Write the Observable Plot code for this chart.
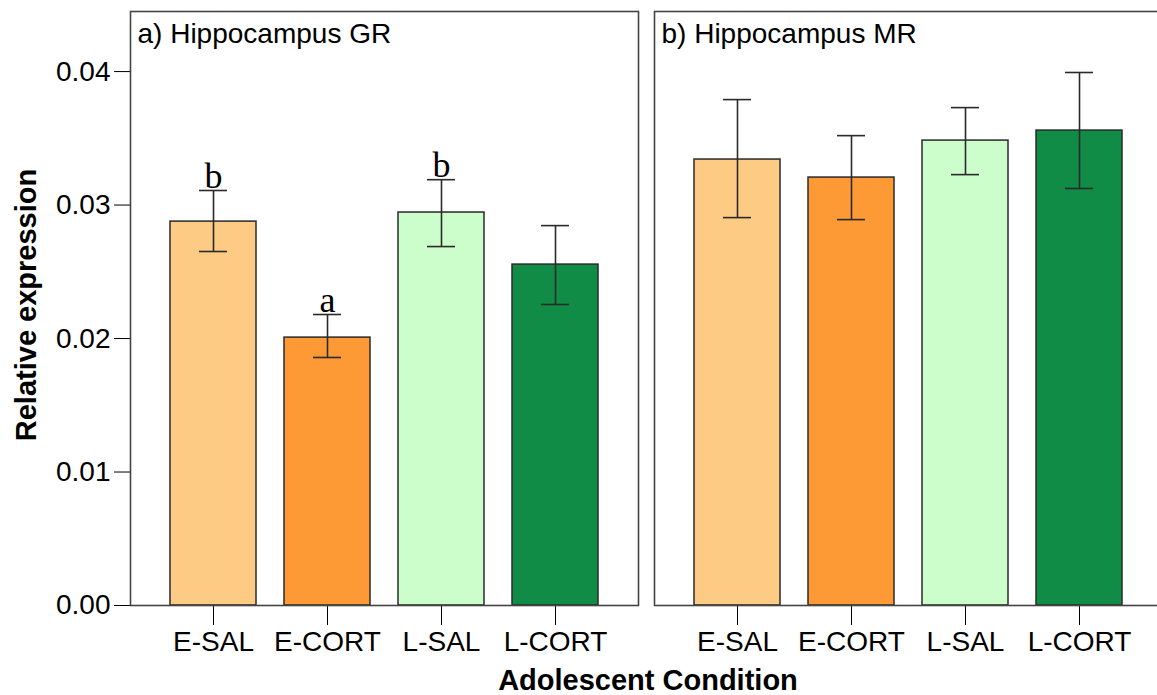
<!DOCTYPE html>
<html>
<head>
<meta charset="utf-8">
<script src="https://cdn.jsdelivr.net/npm/d3@7"></script>
<script src="https://cdn.jsdelivr.net/npm/@observablehq/plot@0.6"></script>
<style>
  html, body { margin: 0; padding: 0; overflow: hidden; background: #fff; }
  #chart { width: 1157px; height: 695px; overflow: hidden; }
  #chart svg { max-width: none !important; }
</style>
</head>
<body>
<div id="chart"></div>
<script>
const conditions = ["E-SAL", "E-CORT", "L-SAL", "L-CORT"];
const panels = ["a", "b"];
const panelTitles = ["a) Hippocampus GR", "b) Hippocampus MR"];
const grMean = [0.02876, 0.02007, 0.02944, 0.02554];
const grLow  = [0.02652, 0.01858, 0.02689, 0.02255];
const grHigh = [0.03109, 0.02180, 0.03190, 0.02846];
const grLetters = ["b", "a", "b", ""];
const mrMean = [0.03341, 0.03206, 0.03483, 0.03558];
const mrLow  = [0.02906, 0.02891, 0.03228, 0.03124];
const mrHigh = [0.03790, 0.03520, 0.03730, 0.03993];
const yTicks = [0, 0.01, 0.02, 0.03, 0.04];
const colors = ["#fecb85", "#fd9a35", "#ccfecc", "#108c47"];

const rows = [];
conditions.forEach((c, i) => {
  rows.push({panel: "a", condition: c, mean: grMean[i], low: grLow[i], high: grHigh[i], letter: grLetters[i]});
});
conditions.forEach((c, i) => {
  rows.push({panel: "b", condition: c, mean: mrMean[i], low: mrLow[i], high: mrHigh[i], letter: ""});
});
const titles = panels.map((p, i) => ({panel: p, title: panelTitles[i]}));

const chart = Plot.plot({
  width: 1157,
  height: 695,
  marginTop: 11,
  marginBottom: 90,
  marginLeft: 130,
  marginRight: -6,
  style: {fontFamily: "Liberation Sans, Arial, sans-serif", fontSize: "28px", color: "#000", background: "#fff", maxWidth: "none", overflow: "hidden"},
  fx: {domain: panels, axis: null, paddingInner: 0.0305, paddingOuter: 0},
  x: {domain: conditions, paddingInner: 0.25, paddingOuter: 0.34, tickSize: 20, tickPadding: 6, label: null},
  y: {domain: [0, 0.0445], ticks: yTicks, tickFormat: d3.format(".2f"), tickSize: 16, tickPadding: 4, label: null},
  color: {domain: conditions, range: colors},
  marks: [
    Plot.barY(rows, {fx: "panel", x: "condition", y: "mean", fill: "condition", stroke: "#2a2a2a", strokeWidth: 1.5}),
    Plot.ruleX(rows, {fx: "panel", x: "condition", y1: "low", y2: "high", stroke: "#2a2a2a", strokeWidth: 1.6}),
    Plot.tickY(rows, {fx: "panel", x: "condition", y: "low", stroke: "#2a2a2a", strokeWidth: 1.6, insetLeft: 29, insetRight: 29}),
    Plot.tickY(rows, {fx: "panel", x: "condition", y: "high", stroke: "#2a2a2a", strokeWidth: 1.6, insetLeft: 29, insetRight: 29}),
    Plot.text(rows, {fx: "panel", x: "condition", y: "high", text: "letter", lineAnchor: "bottom", dy: -3, fontFamily: "Liberation Serif, Times New Roman, serif", fontSize: 36, fill: "#000"}),
    Plot.text(titles, {fx: "panel", text: "title", frameAnchor: "top-left", textAnchor: "start", lineAnchor: "top", dx: 7, dy: 12, fontSize: 28, fill: "#000"}),
    Plot.frame({stroke: "#444", strokeWidth: 1.6})
  ]
});

const svg = d3.select(chart);
svg.append("text")
  .attr("transform", "translate(26,305) rotate(-90)")
  .attr("text-anchor", "middle")
  .attr("dominant-baseline", "central")
  .attr("font-family", "Liberation Sans, Arial, sans-serif")
  .attr("font-weight", "bold")
  .attr("font-size", 29)
  .attr("fill", "#000")
  .text("Relative expression");
svg.append("text")
  .attr("x", 648)
  .attr("y", 690)
  .attr("text-anchor", "middle")
  .attr("font-family", "Liberation Sans, Arial, sans-serif")
  .attr("font-weight", "bold")
  .attr("font-size", 29)
  .attr("fill", "#000")
  .text("Adolescent Condition");

document.getElementById("chart").appendChild(chart);
</script>
</body>
</html>
